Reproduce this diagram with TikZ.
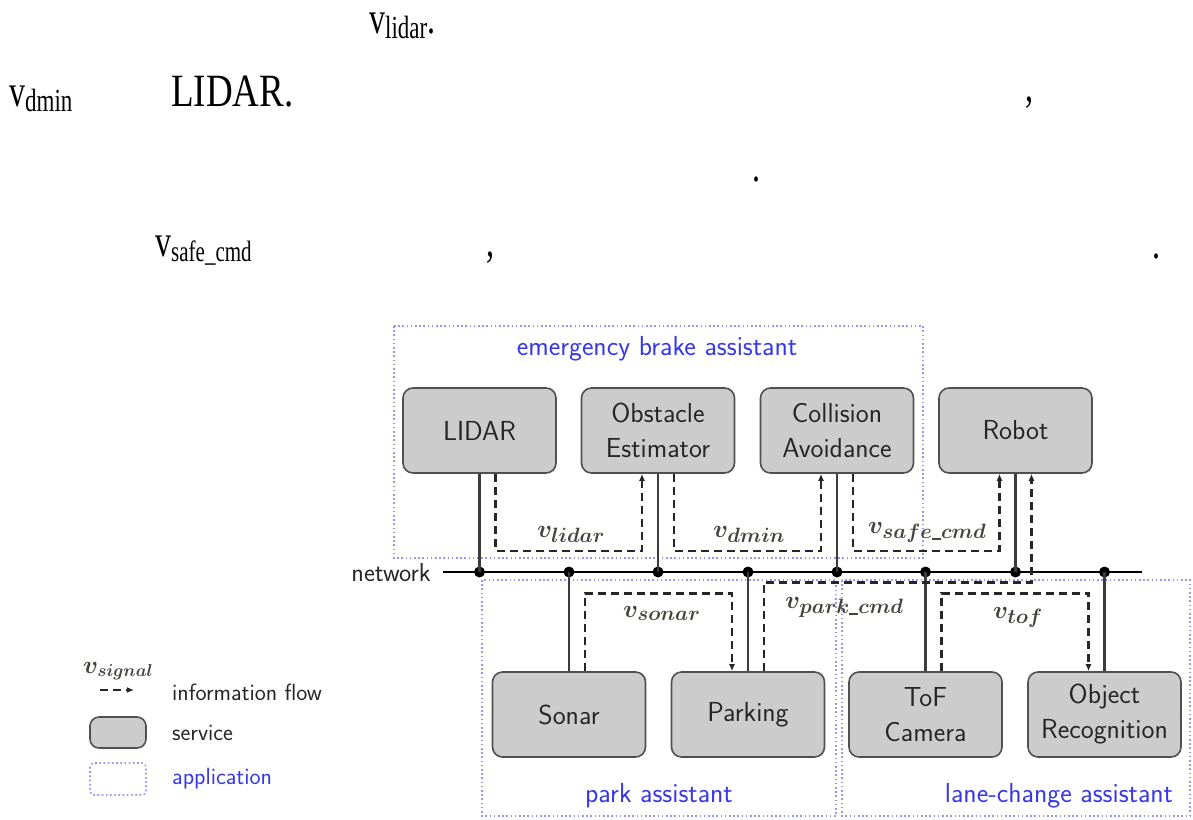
\documentclass[tikz,border=0pt]{standalone}
\usepackage{fontspec}
\newfontfamily\prosefont{Liberation Serif}
\usetikzlibrary{arrows.meta}

\definecolor{appblue}{RGB}{55,55,230}
\definecolor{appline}{RGB}{150,150,240}
\definecolor{svcfill}{RGB}{204,204,204}
\definecolor{svcline}{RGB}{80,80,80}
\definecolor{busline}{RGB}{60,60,60}
\definecolor{sigtext}{RGB}{70,66,60}

% v with a lowered subscript, in the serif prose font
\newcommand\vsub[2][23]{v\raisebox{-4pt}{\fontsize{#1}{#1}\selectfont #2}}
% short underscore inside signal subscripts
\newcommand\usc{\rule[-1.5pt]{9pt}{1.6pt}}

\begin{document}
\begin{tikzpicture}[x=1pt,y=-1pt,
  service/.style={draw=svcline, line width=1.6pt, fill=svcfill, rounded corners=10pt,
    minimum width=153pt, minimum height=85pt, align=center, inner sep=0pt,
    font=\sffamily\fontsize{27.5}{35}\selectfont, text=black!85},
  app/.style={draw=appline, line width=1.6pt, dash pattern=on 1.6pt off 2.6pt},
  applabel/.style={text=appblue, inner sep=0pt, anchor=base,
    font=\sffamily\fontsize{27.5}{32}\selectfont},
  netline/.style={draw=black, line width=2.2pt},
  bus/.style={draw=busline, line width=2.2pt},
  flow/.style={draw=black!85, line width=2.6pt, dash pattern=on 8pt off 5pt,
    -{Latex[length=7pt,width=6pt]}},
  sig/.style={inner sep=0pt, anchor=base west, text=sigtext,
    font=\boldmath\fontsize{32}{36}\selectfont},
  junction/.style={circle, fill=black, inner sep=0pt, minimum size=11pt},
  prose/.style={inner sep=0pt, anchor=base west, font=\prosefont\fontsize{32}{36}\selectfont},
  legendtext/.style={inner sep=0pt, anchor=base west, text=black!85,
    font=\sffamily\fontsize{23.5}{28}\selectfont},
]
\useasboundingbox (0,0) rectangle (1193,819);

% ---- prose fragments above the figure ----
\node[prose] (p1) at (369,33) {\scalebox{1}[1.4]{\vsub{lidar}.}};
\node[prose] (p2) at (9,106) {\scalebox{1}[1.4]{\vsub{dmin}}};
\node[prose, font=\prosefont\fontsize{37}{40}\selectfont] (p3) at (171,106) {\scalebox{1}[1.25]{LIDAR.}};
\node[prose] (p4) at (1025,101) {\scalebox{1}[1.4]{,}};
\node[prose] (p5) at (752,181) {\scalebox{1}[1.4]{.}};
\node[prose] (p6) at (155,256) {\scalebox{1}[1.4]{\vsub[21]{safe\_cmd}}};
\node[prose] (p7) at (486,256) {\scalebox{1}[1.4]{,}};
\node[prose] (p8) at (1152,258) {\scalebox{1}[1.4]{.}};

% ---- application frames ----
\draw[app] (394,326) rectangle (923,558);
\draw[app] (482,580) rectangle (836,816);
\draw[app] (842,580) rectangle (1190,816);
\node[applabel] (aeb) at (657,355) {emergency brake assistant};
\node[applabel] (apa) at (659,802) {park assistant};
\node[applabel] (alc) at (1059,802) {lane-change assistant};

% ---- network ----
\coordinate (netL) at (443,572);
\coordinate (netR) at (1142,572);
\draw[netline] (netL) -- (netR);
\node[inner sep=0pt, anchor=base east, text=black!85,
  font=\sffamily\fontsize{26}{30}\selectfont] (netlabel) at (431,581) {network};

% ---- services ----
\node[service] (lidar)  at (479.5,430.5) {LIDAR};
\node[service] (obst)   at (658,430.5)   {Obstacle\\Estimator};
\node[service] (coll)   at (837,430.5)   {Collision\\Avoidance};
\node[service] (robot)  at (1015.5,430.5){Robot};
\node[service] (sonar)  at (569,714.5)   {Sonar};
\node[service] (park)   at (748,714.5)   {Parking};
\node[service] (tof)    at (925.5,714.5) {ToF\\Camera};
\node[service] (objrec) at (1104.5,714.5){Object\\Recognition};

% ---- attachments to the network ----
\node[junction] (j1) at (lidar.south |- netL) {};
\node[junction] (j2) at (sonar.north |- netL) {};
\node[junction] (j3) at (obst.south |- netL) {};
\node[junction] (j4) at (park.north |- netL) {};
\node[junction] (j5) at (coll.south |- netL) {};
\node[junction] (j6) at (tof.north |- netL) {};
\node[junction] (j7) at (robot.south |- netL) {};
\node[junction] (j8) at (objrec.north |- netL) {};
\draw[bus] (lidar.south) -- (j1.center);
\draw[bus] (obst.south)  -- (j3.center);
\draw[bus] (coll.south)  -- (j5.center);
\draw[bus] (robot.south) -- (j7.center);
\draw[bus] (sonar.north) -- (j2.center);
\draw[bus] (park.north)  -- (j4.center);
\draw[bus] (tof.north)   -- (j6.center);
\draw[bus] (objrec.north) -- (j8.center);

% ---- information flows ----
\draw[flow] ([xshift=16pt]lidar.south) -- ++(0,77) -| ([xshift=-16pt]obst.south);
\draw[flow] ([xshift=16pt]obst.south)  -- ++(0,77) -| ([xshift=-16pt]coll.south);
\draw[flow] ([xshift=16pt]coll.south)  -- ++(0,77) -| ([xshift=-16pt]robot.south);
\draw[flow] ([xshift=16pt]sonar.north) -- ++(0,-78) -| ([xshift=-16pt]park.north);
\draw[flow] ([xshift=16pt]park.north)  -- ++(0,-89) -| ([xshift=16pt]robot.south);
\draw[flow] ([xshift=16pt]tof.north)   -- ++(0,-78) -| ([xshift=-16pt]objrec.north);

\node[sig] (slidar) at (537,537) {$v_{lidar}$};
\node[sig] (sdmin)  at (713,537) {$v_{dmin}$};
\node[sig] (ssafe)  at (868,533) {$v_{safe\usc cmd}$};
\node[sig] (ssonar) at (623,617) {$v_{sonar}$};
\node[sig] (spark)  at (785,608) {$v_{park\usc cmd}$};
\node[sig] (stof)   at (993,618) {$v_{tof}$};

% ---- legend ----
\node[sig, font=\boldmath\fontsize{25}{28}\selectfont] (lsig) at (83,673) {$v_{signal}$};
\coordinate (lf1) at (100,690);
\coordinate (lf2) at (134,690);
\draw[flow] (lf1) -- (lf2);
\node[legendtext] (linfo) at (172,700) {information flow};
\draw[draw=svcline, line width=1.6pt, fill=svcfill, rounded corners=9pt] (90,717) rectangle (146,748);
\node[legendtext] (lsvc) at (172,740) {service};
\draw[app, rounded corners=4pt] (90,763) rectangle (146,795);
\node[legendtext, text=appblue] (lapp) at (172,784) {application};
\end{tikzpicture}
\end{document}
